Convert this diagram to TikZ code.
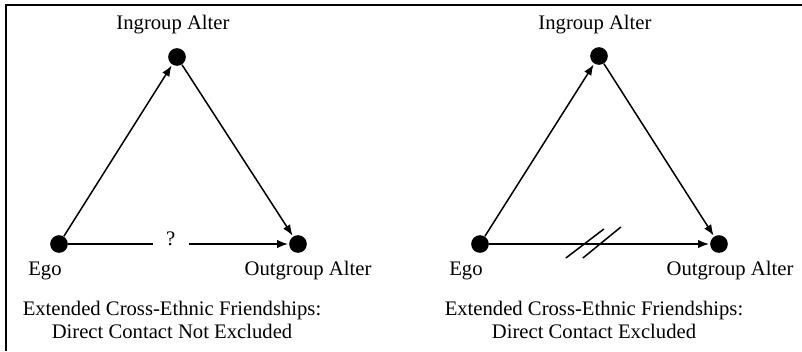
\documentclass[tikz,border=0pt]{standalone}
\usepackage{fontspec}
\setmainfont{Liberation Serif}
\usetikzlibrary{arrows.meta,positioning}

\begin{document}
\begin{tikzpicture}[x=0.6pt,y=-0.6pt,>={Latex[length=6.5pt,width=5pt]},every node/.append style={align=center,font=\fontsize{12.4}{14.5}\selectfont},
  actor/.style={circle, fill=black, inner sep=0pt, minimum size=10.6pt},
  tie/.style={->, line width=0.9pt, shorten >=0.5pt},
  role/.style={inner sep=1pt},
  caption/.style={inner sep=0pt}]
    \useasboundingbox (0,0) rectangle (802,351);
    \draw[line width=1.1pt] (6,351) -- (6,5) -- (802,5);
    % left: direct contact not excluded
    \node [actor] (egoA)  at (59,244)  {};
    \node [actor] (inA)   at (177,57)  {};
    \node [actor] (outA)  at (298,244) {};
    \node [role] at (173,25)  {Ingroup Alter};
    \node [role] at (45,271)  {Ego};
    \node [role] at (308,271) {Outgroup Alter};
    \node [caption] (capA) at (172,320) {Extended Cross-Ethnic Friendships:\\[-1pt]
      Direct Contact Not Excluded};
    \draw [tie] (egoA) -- (inA);
    \draw [tie] (inA) -- (outA);
    \draw [tie] (egoA) -- node[pos=0.465, fill=white, inner xsep=8pt, yshift=3pt] {?} (outA);
    % right: direct contact excluded
    \node [actor] (egoB)  at (480,244) {};
    \node [actor] (inB)   at (599,56)  {};
    \node [actor] (outB)  at (719,244) {};
    \node [role] at (595,25)  {Ingroup Alter};
    \node [role] at (466,271) {Ego};
    \node [role] at (730,271) {Outgroup Alter};
    \node [caption] (capB) at (594,320) {Extended Cross-Ethnic Friendships:\\[-1pt]
      Direct Contact Excluded};
    \draw [tie] (egoB) -- (inB);
    \draw [tie] (inB) -- (outB);
    \draw [tie] (egoB) -- coordinate[pos=0.47] (cut) (outB);
    \draw [line width=0.9pt] ([shift={(-27,14)}]cut) -- ([shift={(11,-15)}]cut)
                             ([shift={(-10,14)}]cut) -- ([shift={(28,-17)}]cut);
\end{tikzpicture}
\end{document}
